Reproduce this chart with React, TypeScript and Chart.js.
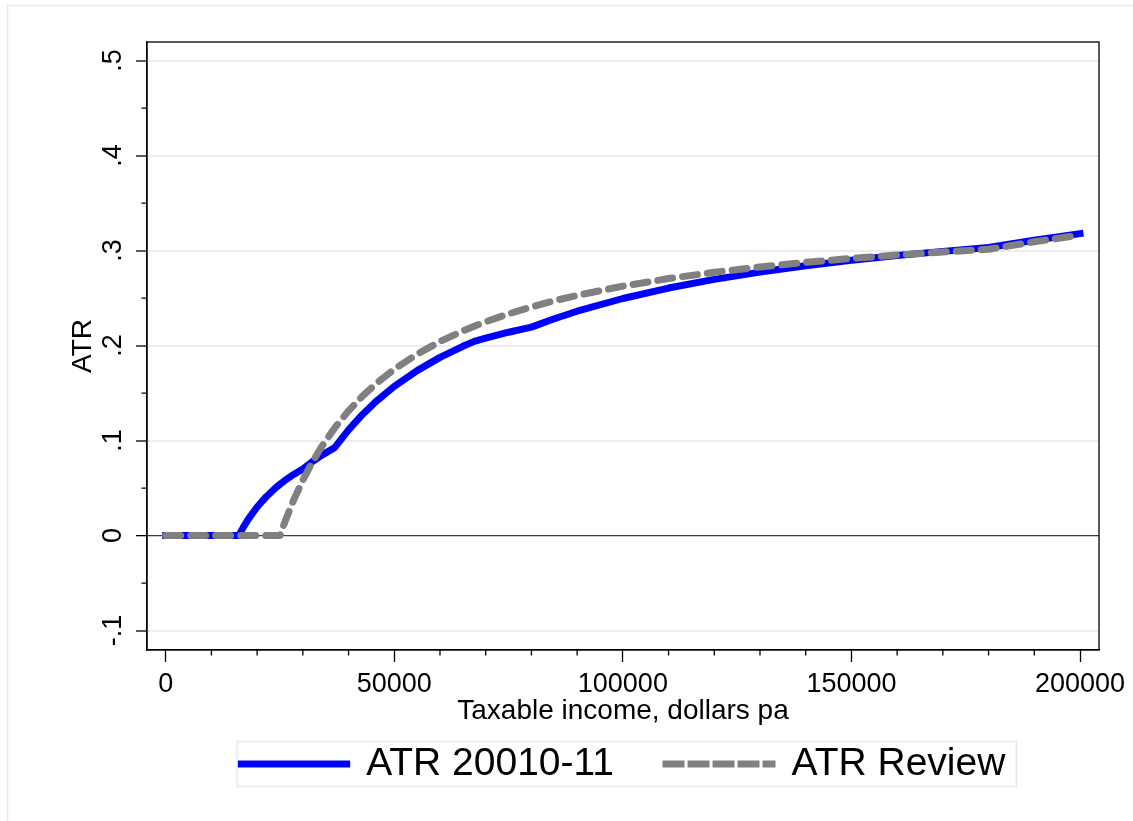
import React, { useEffect, useRef } from "react";
import { Chart, registerables } from "chart.js";

Chart.register(...registerables);

// Taxable income (dollars pa) at which the curves were read
const incomes = [
  0, 5000, 10000, 15000, 16000, 17000, 18000, 20000, 22000, 24000, 25000, 26000,
  28000, 30000, 32000, 34000, 37000, 40000, 43000, 46000, 50000, 55000, 60000,
  65000, 67500, 70000, 75000, 80000, 85000, 90000, 100000, 110000, 120000, 130000,
  140000, 150000, 160000, 170000, 180000, 190000, 200000,
];

// ATR 20010-11 (blue, solid)
const atr201011 = [
  0, 0, 0, 0, 0, 0.0088, 0.0167, 0.03, 0.0409, 0.05, 0.054, 0.0577, 0.0643, 0.07,
  0.0775, 0.0841, 0.0927, 0.1113, 0.1272, 0.1411, 0.157, 0.1736, 0.1875, 0.1992,
  0.2044, 0.2079, 0.214, 0.2194, 0.2282, 0.2361, 0.2495, 0.2605, 0.2696, 0.2773,
  0.2839, 0.2897, 0.2947, 0.2991, 0.3031, 0.3108, 0.3178,
];

// ATR Review (grey, dashed)
const atrReview = [
  0, 0, 0, 0, 0, 0, 0, 0, 0, 0, 0, 0.0135, 0.0375, 0.0583, 0.0766, 0.0926, 0.1135,
  0.1313, 0.1465, 0.1598, 0.175, 0.1909, 0.2042, 0.2154, 0.2204, 0.225, 0.2333,
  0.2406, 0.2471, 0.2528, 0.2625, 0.2705, 0.2771, 0.2827, 0.2875, 0.2917, 0.2953,
  0.2985, 0.3014, 0.3092, 0.3163,
];

const seriesLabels = ["ATR 20010-11", "ATR Review"];

const xTickValues = [0, 50000, 100000, 150000, 200000];
const xMinorTicks = [
  10000, 20000, 30000, 40000, 60000, 70000, 80000, 90000, 110000, 120000, 130000,
  140000, 160000, 170000, 180000, 190000,
];
const yTickValues = [-0.1, 0, 0.1, 0.2, 0.3, 0.4, 0.5];
const yTickLabels = ["-.1", "0", ".1", ".2", ".3", ".4", ".5"];
const yMinorTicks = [-0.05, 0.05, 0.15, 0.25, 0.35, 0.45];

const FONT = "'Liberation Sans', Arial, Helvetica, sans-serif";
const FRAME = "#e3ebee";
const GRID = "#e6eef0";

const decorPlugin = {
  id: "decor",
  beforeDraw(chart: any) {
    const ctx = chart.ctx;
    ctx.save();
    ctx.fillStyle = "#ffffff";
    ctx.fillRect(0, 0, chart.width, chart.height);
    ctx.strokeStyle = FRAME;
    ctx.lineWidth = 1.5;
    ctx.strokeRect(7.5, 5.5, chart.width + 40, chart.height + 40);
    ctx.restore();
  },
  afterDraw(chart: any) {
    const { ctx, chartArea: ca, scales } = chart;
    ctx.save();
    ctx.strokeStyle = "#000";
    ctx.lineWidth = 1.3;
    ctx.strokeRect(ca.left, ca.top, ca.right - ca.left, ca.bottom - ca.top);
    ctx.beginPath();
    for (const v of yMinorTicks) {
      const py = scales.y.getPixelForValue(v);
      ctx.moveTo(ca.left - 5.5, py);
      ctx.lineTo(ca.left, py);
    }
    for (const v of xMinorTicks) {
      const px = scales.x.getPixelForValue(v);
      ctx.moveTo(px, ca.bottom);
      ctx.lineTo(px, ca.bottom + 5.5);
    }
    ctx.stroke();
    const hb = chart.legend && chart.legend.legendHitBoxes;
    if (hb && hb.length) {
      const first = hb[0];
      const last = hb[hb.length - 1];
      const x1 = first.left - 3.5;
      const x2 = last.left + last.width + 11;
      const cy = first.top + first.height / 2;
      ctx.strokeStyle = FRAME;
      ctx.lineWidth = 1.5;
      ctx.strokeRect(x1, cy - 22.5, x2 - x1, 45);
    }
    ctx.restore();
  },
};

export default function App() {
  const ref = useRef<HTMLCanvasElement>(null);

  useEffect(() => {
    const canvas = ref.current!;
    const chart = new Chart(canvas, {
      type: "line",
      data: {
        datasets: [
          {
            label: seriesLabels[0],
            data: incomes.map((x, i) => ({ x, y: atr201011[i] })),
            borderColor: "#0000ff",
            backgroundColor: "#0000ff",
            borderWidth: 7,
            borderCapStyle: "square",
            borderJoinStyle: "round",
            pointRadius: 0,
            tension: 0,
            order: 1,
          },
          {
            label: seriesLabels[1],
            data: incomes.map((x, i) => ({ x, y: atrReview[i] })),
            borderColor: "#808080",
            backgroundColor: "#808080",
            borderWidth: 7,
            borderDash: [15, 10],
            borderCapStyle: "round",
            borderJoinStyle: "round",
            pointRadius: 0,
            tension: 0,
            order: 0,
          },
        ],
      },
      options: {
        responsive: false,
        animation: false,
        events: [],
        layout: { padding: { left: 50, right: 34, top: 42, bottom: 27.5 } },
        plugins: {
          tooltip: { enabled: false },
          legend: {
            position: "bottom",
            fullSize: false,
            labels: {
              usePointStyle: true,
              pointStyle: "line",
              pointStyleWidth: 106,
              padding: 52,
              color: "#000",
              font: { family: FONT, size: 39 },
              generateLabels: (c: any) => {
                const items = (Chart.defaults.plugins.legend.labels as any).generateLabels(c);
                items.sort((a: any, b: any) => a.datasetIndex - b.datasetIndex);
                return items.map((it: any) => ({
                  ...it,
                  lineWidth: 7,
                  lineCap: "square",
                  lineDash: it.datasetIndex === 1 ? [15, 10] : [],
                  lineDashOffset: 0,
                  pointStyle: "line",
                  rotation: 0,
                  fontColor: "#000",
                }));
              },
            },
          },
        },
        scales: {
          x: {
            type: "linear",
            min: -4090,
            max: 204156,
            afterBuildTicks: (s: any) => {
              s.ticks = xTickValues.map((v) => ({ value: v }));
            },
            afterFit: (s: any) => {
              s.height = 42.5;
            },
            ticks: {
              autoSkip: false,
              maxRotation: 0,
              minRotation: 0,
              padding: 6,
              color: "#000",
              font: { family: FONT, size: 27 },
              callback: (v: any) => String(v),
            },
            grid: {
              drawOnChartArea: false,
              drawTicks: true,
              tickLength: 12,
              tickColor: "#000",
              tickWidth: 1.3,
              color: "#000",
            },
            border: { display: true, color: "#000", width: 1.3 },
            title: {
              display: true,
              text: "Taxable income, dollars pa",
              color: "#000",
              font: { family: FONT, size: 28 },
              padding: { top: 0, bottom: -36 },
            },
          },
          y: {
            type: "linear",
            min: -0.1205,
            max: 0.5195,
            afterBuildTicks: (s: any) => {
              s.ticks = yTickValues.map((v) => ({ value: v }));
            },
            afterFit: (s: any) => {
              s.width = 97;
            },
            ticks: {
              minRotation: 90,
              maxRotation: 90,
              crossAlign: "center",
              padding: 7,
              color: "#000",
              font: { family: FONT, size: 27 },
              callback: (v: any) => {
                const i = yTickValues.findIndex((t) => Math.abs(t - v) < 1e-9);
                return i >= 0 ? yTickLabels[i] : "";
              },
            },
            grid: {
              color: (c: any) => (c.tick && Math.abs(c.tick.value) < 1e-9 ? "#3a3a3a" : GRID),
              lineWidth: (c: any) => (c.tick && Math.abs(c.tick.value) < 1e-9 ? 1.3 : 2),
              drawTicks: true,
              tickLength: 11,
              tickColor: "#000",
              tickWidth: 1.3,
            },
            border: { display: true, color: "#000", width: 1.3 },
            title: {
              display: true,
              text: "ATR",
              color: "#000",
              font: { family: FONT, size: 28 },
              padding: { top: 16, bottom: 0 },
            },
          },
        },
      },
      plugins: [decorPlugin],
    } as any);
    return () => chart.destroy();
  }, []);

  return (
    <div style={{ position: "absolute", left: 0, top: 0, width: 1133, height: 821, background: "#fff" }}>
      <canvas ref={ref} width={1133} height={821} style={{ display: "block" }} />
    </div>
  );
}
